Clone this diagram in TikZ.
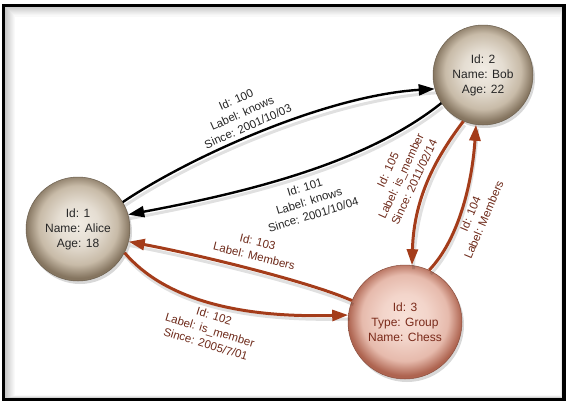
\documentclass[tikz,border=0pt]{standalone}
\usepackage{fontspec}
\setmainfont{Liberation Sans}
\usetikzlibrary{arrows.meta,shadows}
\definecolor{rust}{HTML}{A43C1A}
\definecolor{rusttext}{HTML}{6E2A1A}
\definecolor{chesstext}{HTML}{7A2A1A}
\definecolor{ballrim}{HTML}{857560}
\definecolor{ballmid}{HTML}{C8BBA8}
\definecolor{ballcen}{HTML}{F1ECE4}
\definecolor{chrim}{HTML}{AE6450}
\definecolor{chmid}{HTML}{E6BAAC}
\definecolor{chcen}{HTML}{F8E0D7}
\pgfdeclareradialshading{tanball}{\pgfpoint{0bp}{3bp}}{color(0bp)=(ballcen); color(10bp)=(ballcen!70!ballmid); color(19bp)=(ballmid); color(25bp)=(ballrim); color(50bp)=(ballrim)}
\pgfdeclareradialshading{pinkball}{\pgfpoint{0bp}{3bp}}{color(0bp)=(chcen); color(10bp)=(chcen!70!chmid); color(19bp)=(chmid); color(25bp)=(chrim); color(50bp)=(chrim)}
\tikzset{
  ball/.style={circle, shading=tanball, draw=ballrim!80!black, line width=0.5pt,
    align=center, font=\fontsize{12}{15}\selectfont, text=black!85,
    drop shadow={opacity=0.3, shadow xshift=2pt, shadow yshift=-3pt}},
  chessball/.style={ball, shading=pinkball, draw=chrim!80!black, text=chesstext},
  blackedge/.style={draw=black, line width=2.4pt, -{Triangle[length=16pt,width=11pt]},
    preaction={draw=black, opacity=0.12, line width=3pt, -, transform canvas={shift={(1.5pt,-4pt)}}}},
  rustedge/.style={draw=rust, line width=3pt, -{Triangle[length=16pt,width=11pt]},
    preaction={draw=black, opacity=0.12, line width=3pt, -, transform canvas={shift={(1.5pt,-4pt)}}}},
  blacklabel/.style={align=center, font=\fontsize{11.5}{14.5}\selectfont, text=black!85, inner sep=0pt},
  rustlabel/.style={blacklabel, text=rusttext}
}
\begin{document}
\begin{tikzpicture}[x=1pt,y=-1pt]
\useasboundingbox (0,0) rectangle (571,402);
\fill[white] (0,0) rectangle (571,402);
% frame with inner shadow
\foreach \i in {0,...,9} {
  \pgfmathsetmacro\g{22-2.2*\i}
  \draw[black!\g, line width=1.2pt] (5.5+\i,7+\i) rectangle (562.5-0.25*\i,397.5-0.25*\i);
}
\draw[black, line width=3.5pt] (3.5,5.5) rectangle (564,399.5);

% nodes
\node[ball, minimum size=104pt] (alice) at (78,229) {Id: 1\\Name: Alice\\Age: 18};
\node[ball, minimum size=100pt] (bob) at (483,75) {Id: 2\\Name: Bob\\Age: 22};
\node[chessball, minimum size=114pt] (chess) at (405,322) {Id: 3\\Type: Group\\Name: Chess};

% edges
\draw[blackedge] (alice.31) .. controls (185,160) and (322,96) .. (bob.196);
\draw[blackedge] (bob.214) .. controls (370,160) and (260,190) .. (alice.16);
\draw[rustedge] (chess.158) .. controls (310,282) and (200,255) .. (alice.346);
\draw[rustedge] (alice.333) .. controls (165,300) and (240,318) .. (chess.173);
\draw[rustedge] (bob.247) .. controls (438,155) and (414,195) .. (chess.83);
\draw[rustedge] (chess.65) .. controls (458,240) and (472,185) .. (bob.262);

% labels
\node[blacklabel, rotate=24] (l100) at (242,113) {Id: 100\\Label: knows\\Since: 2001/10/03};
\node[blacklabel, rotate=17] (l101) at (309,201) {Id: 101\\Label: knows\\Since: 2001/10/04};
\node[rustlabel, rotate=-14] (l103) at (256,249) {Id: 103\\Label: Members};
\node[rustlabel, rotate=-17] (l102) at (210,330) {Id: 102\\Label: is\_member\\Since: 2005/7/01};
\node[rustlabel, rotate=65] (l105) at (401,176) {Id: 105\\Label: is\_member\\Since: 2011/02/14};
\node[rustlabel, rotate=67] (l104) at (477,217) {Id: 104\\Label: Members};
\end{tikzpicture}
\end{document}
